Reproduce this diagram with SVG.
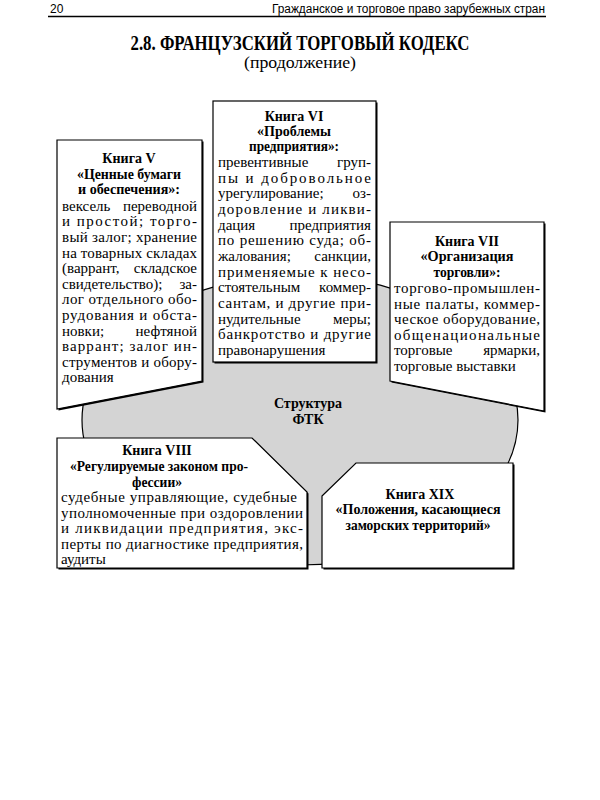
<svg xmlns="http://www.w3.org/2000/svg" width="600" height="800" viewBox="0 0 600 800">
<style>
.hdr{font-family:"Liberation Sans",Arial,sans-serif;font-size:12px;fill:#000}
.ttl{font-family:"Liberation Serif","Times New Roman",serif;font-weight:bold;font-size:20px;text-anchor:middle}
.sub{font-family:"Liberation Serif","Times New Roman",serif;font-size:17px;text-anchor:middle}
.h{font-family:"Liberation Serif","Times New Roman",serif;font-weight:bold;font-size:14px;text-anchor:middle}
.b{font-family:"Liberation Serif","Times New Roman",serif;font-size:15px}
.e{text-anchor:end}
.box{fill:#fff;stroke:#000;stroke-width:1.2}
.sh{fill:#000}
</style>
<rect width="600" height="800" fill="#fff"/>
<g id="header">
<text class="hdr" x="50" y="13">20</text>
<text class="hdr" x="545" y="13" text-anchor="end" textLength="273" lengthAdjust="spacingAndGlyphs">Гражданское и торговое право зарубежных стран</text>
<line x1="48" y1="16.5" x2="546" y2="16.5" stroke="#000" stroke-width="1.5"/>
</g>
<g id="title">
<text class="ttl" x="300" y="50" textLength="339" lengthAdjust="spacingAndGlyphs">2.8. ФРАНЦУЗСКИЙ ТОРГОВЫЙ КОДЕКС</text>
<text class="sub" x="300" y="68" textLength="112" lengthAdjust="spacingAndGlyphs">(продолжение)</text>
</g>
<g id="center">
<ellipse cx="300" cy="420" rx="218" ry="145" fill="#d4d4d4" stroke="#000" stroke-width="1.2"/>
<text class="h" x="308" y="408">Структура</text>
<text class="h" x="308" y="424">ФТК</text>
</g>
<g id="book5">
<polygon class="sh" points="58.5,141.5 203.5,141.5 203.5,382.5 58.5,410.5"/>
<polygon class="box" points="57,140 202,140 202,381 57,409"/>
<text class="h" x="129" y="163">Книга V</text>
<text class="h" x="129" y="179" textLength="104" lengthAdjust="spacingAndGlyphs">«Ценные бумаги</text>
<text class="h" x="129" y="194" textLength="102" lengthAdjust="spacingAndGlyphs">и обеспечения»:</text>
<text class="b" x="62" y="211">вексель</text><text class="b e" x="197" y="211">переводной</text>
<text class="b" x="62" y="226" textLength="135" lengthAdjust="spacing">и  простой;  торго-</text>
<text class="b" x="62" y="242" textLength="135" lengthAdjust="spacing">вый залог; хранение</text>
<text class="b" x="62" y="258" textLength="135" lengthAdjust="spacing">на товарных складах</text>
<text class="b" x="62" y="273">(варрант,</text><text class="b e" x="197" y="273">складское</text>
<text class="b" x="62" y="289">свидетельство);</text><text class="b e" x="197" y="289">за-</text>
<text class="b" x="62" y="304" textLength="135" lengthAdjust="spacing">лог отдельного обо-</text>
<text class="b" x="62" y="320" textLength="135" lengthAdjust="spacing">рудования и обста-</text>
<text class="b" x="62" y="336">новки;</text><text class="b e" x="197" y="336">нефтяной</text>
<text class="b" x="62" y="351" textLength="135" lengthAdjust="spacing">варрант; залог ин-</text>
<text class="b" x="62" y="367" textLength="135" lengthAdjust="spacing">струментов и обору-</text>
<text class="b" x="62" y="382">дования</text>
</g>
<g id="book6">
<rect class="sh" x="214.5" y="102.5" width="163" height="261"/>
<rect class="box" x="213" y="101" width="163" height="261"/>
<text class="h" x="294" y="121">Книга VI</text>
<text class="h" x="294" y="136" textLength="74" lengthAdjust="spacingAndGlyphs">«Проблемы</text>
<text class="h" x="294" y="151" textLength="90" lengthAdjust="spacingAndGlyphs">предприятия»:</text>
<text class="b" x="218" y="167">превентивные</text><text class="b e" x="371" y="167">груп-</text>
<text class="b" x="218" y="183" textLength="153" lengthAdjust="spacing">пы  и  добровольное</text>
<text class="b" x="218" y="198">урегулирование;</text><text class="b e" x="371" y="198">оз-</text>
<text class="b" x="218" y="214" textLength="153" lengthAdjust="spacing">доровление и ликви-</text>
<text class="b" x="218" y="230">дация</text><text class="b e" x="371" y="230">предприятия</text>
<text class="b" x="218" y="245" textLength="153" lengthAdjust="spacing">по решению суда; об-</text>
<text class="b" x="218" y="261">жалования;</text><text class="b e" x="371" y="261">санкции,</text>
<text class="b" x="218" y="277" textLength="153" lengthAdjust="spacing">применяемые к несо-</text>
<text class="b" x="218" y="292">стоятельным</text><text class="b e" x="371" y="292">коммер-</text>
<text class="b" x="218" y="308" textLength="153" lengthAdjust="spacing">сантам, и другие при-</text>
<text class="b" x="218" y="324">нудительные</text><text class="b e" x="371" y="324">меры;</text>
<text class="b" x="218" y="339" textLength="153" lengthAdjust="spacing">банкротство и другие</text>
<text class="b" x="218" y="355">правонарушения</text>
</g>
<g id="book7">
<polygon class="sh" points="391.5,223.5 545.5,223.5 545.5,412.5 391.5,382.5"/>
<polygon class="box" points="390,222 544,222 544,411 390,381"/>
<text class="h" x="467" y="246">Книга VII</text>
<text class="h" x="467" y="261" textLength="93" lengthAdjust="spacingAndGlyphs">«Организация</text>
<text class="h" x="467" y="277" textLength="67" lengthAdjust="spacingAndGlyphs">торговли»:</text>
<text class="b" x="394" y="293" textLength="146" lengthAdjust="spacing">торгово-промышлен-</text>
<text class="b" x="394" y="309" textLength="146" lengthAdjust="spacing">ные палаты, коммер-</text>
<text class="b" x="394" y="324" textLength="146" lengthAdjust="spacing">ческое оборудование,</text>
<text class="b" x="394" y="340" textLength="146" lengthAdjust="spacing">общенациональные</text>
<text class="b" x="394" y="355">торговые</text><text class="b e" x="540" y="355">ярмарки,</text>
<text class="b" x="394" y="371">торговые выставки</text>
</g>
<g id="book8">
<polygon class="sh" points="58.5,439.5 253.5,439.5 308.5,493.5 308.5,569.5 58.5,569.5"/>
<polygon class="box" points="57,438 252,438 307,492 307,568 57,568"/>
<text class="h" x="157" y="455">Книга VIII</text>
<text class="h" x="159" y="471" textLength="178" lengthAdjust="spacingAndGlyphs">«Регулируемые законом про-</text>
<text class="h" x="157" y="487" textLength="50" lengthAdjust="spacingAndGlyphs">фессии»</text>
<text class="b" x="61" y="502" textLength="236" lengthAdjust="spacing">судебные управляющие, судебные</text>
<text class="b" x="61" y="518" textLength="242" lengthAdjust="spacing">уполномоченные при оздоровлении</text>
<text class="b" x="61" y="533" textLength="242" lengthAdjust="spacing">и  ликвидации  предприятия,  экс-</text>
<text class="b" x="61" y="549" textLength="242" lengthAdjust="spacing">перты по диагностике предприятия,</text>
<text class="b" x="61" y="564">аудиты</text>
</g>
<g id="book19">
<polygon class="sh" points="323.5,497.5 357.5,464.5 514.5,464.5 514.5,569.5 323.5,569.5"/>
<polygon class="box" points="322,496 356,463 513,463 513,568 322,568"/>
<text class="h" x="420" y="499">Книга XIX</text>
<text class="h" x="418" y="514" textLength="165" lengthAdjust="spacingAndGlyphs">«Положения, касающиеся</text>
<text class="h" x="418" y="530" textLength="145" lengthAdjust="spacingAndGlyphs">заморских территорий»</text>
</g>
</svg>
